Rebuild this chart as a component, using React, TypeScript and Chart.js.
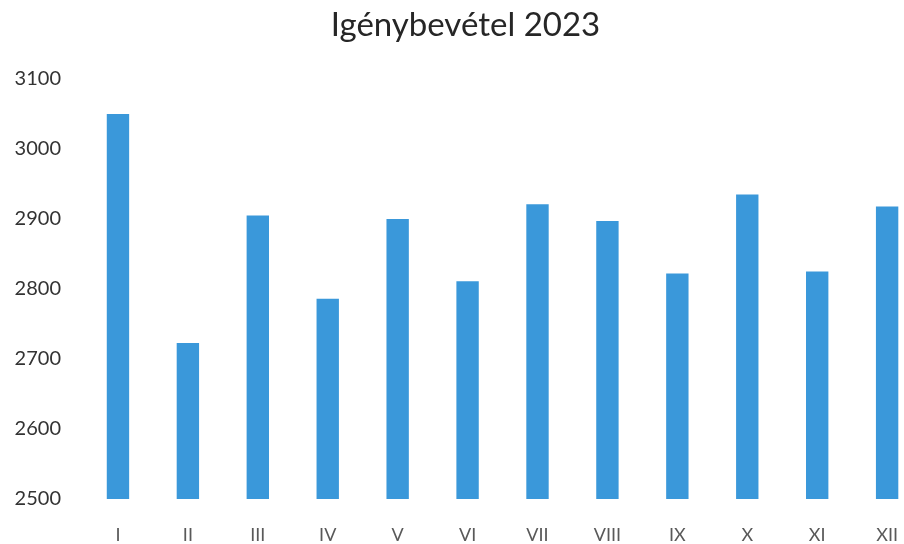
import React, { useEffect, useRef } from "react";
import { Chart, registerables } from "chart.js";

Chart.register(...registerables);

const chartTitle = "Igénybevétel 2023";
const months = ["I", "II", "III", "IV", "V", "VI", "VII", "VIII", "IX", "X", "XI", "XII"];
const values = [3050, 2723, 2905, 2786, 2900, 2811, 2921, 2897, 2822, 2935, 2825, 2918];
const yMin = 2500;
const yMax = 3100;
const yStep = 100;

export default function App() {
  const ref = useRef<HTMLCanvasElement | null>(null);

  useEffect(() => {
    document.body.style.margin = "0";
    document.body.style.overflow = "hidden";
    const canvas = ref.current;
    if (!canvas) return;
    const chart = new Chart(canvas, {
      type: "bar",
      data: {
        labels: months,
        datasets: [
          {
            data: values,
            backgroundColor: "#3a98da",
            borderWidth: 0,
            categoryPercentage: 1,
            barPercentage: 0.32,
          },
        ],
      },
      options: {
        responsive: false,
        animation: false,
        layout: { padding: { left: 8, right: 0, top: 0, bottom: 0 } },
        plugins: {
          legend: { display: false },
          tooltip: { enabled: false },
          title: {
            display: true,
            text: chartTitle,
            color: "#262626",
            font: { family: "Lato", size: 33, weight: "normal" },
            padding: { top: 6, bottom: 33.4 },
          },
        },
        scales: {
          x: {
            grid: { display: false, drawTicks: false },
            border: { display: false },
            ticks: {
              color: "#595959",
              font: { family: "Lato", size: 18 },
              padding: 25,
            },
            afterFit: (s: any) => {
              s.height = 45;
            },
          },
          y: {
            min: yMin,
            max: yMax,
            grid: { display: false, drawTicks: false },
            border: { display: false },
            ticks: {
              stepSize: yStep,
              color: "#333333",
              font: { family: "Lato", size: 20 },
              padding: 22,
              callback: (v: any) => String(v),
            },
            afterFit: (s: any) => {
              s.width = 75;
            },
          },
        },
      },
    });
    return () => chart.destroy();
  }, []);

  return <canvas ref={ref} width={923} height={544} style={{ display: "block" }} />;
}
